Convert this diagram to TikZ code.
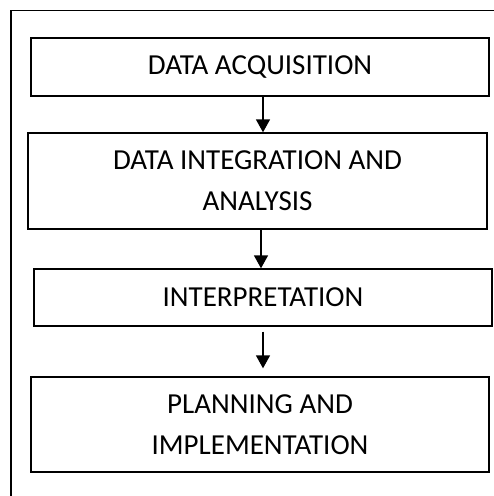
\documentclass[tikz,border=0pt]{standalone}
\usepackage{fontspec}
\setmainfont{Carlito}
\usetikzlibrary{arrows.meta}
\begin{document}
\begin{tikzpicture}[x=1pt,y=-1pt,
  stepbox/.style={draw=black,line width=1.4pt,inner sep=0pt,align=center,
    font=\fontsize{29}{41}\selectfont},
  arr/.style={line width=1.6pt,-{Triangle[width=14pt,length=13pt]}},
  frame/.style={line width=1.6pt}]
\useasboundingbox (0,0) rectangle (494,496);
\fill[white] (0,0) rectangle (494,496);
\draw[frame] (11,500) -- (11,10.5) -- (500,10.5);
\node[stepbox,minimum width=458pt,minimum height=58pt] (b1) at (260,67) {DATA ACQUISITION};
\node[stepbox,minimum width=459pt,minimum height=96pt] (b2) at (257.5,181) {DATA INTEGRATION AND\\ANALYSIS};
\node[stepbox,minimum width=458pt,minimum height=57pt] (b3) at (263,297.5) {INTERPRETATION};
\node[stepbox,minimum width=458pt,minimum height=95pt] (b4) at (260,424.5) {PLANNING AND\\IMPLEMENTATION};
\coordinate (ax1) at (263,0);
\coordinate (ax2) at (261,0);
\draw[arr] (b1.south -| ax1) -- (b2.north -| ax1);
\draw[arr] (b2.south -| ax2) -- (b3.north -| ax2);
\draw[arr] ([yshift=-5pt]b3.south -| ax1) -- ([yshift=8pt]b4.north -| ax1);
\end{tikzpicture}
\end{document}
